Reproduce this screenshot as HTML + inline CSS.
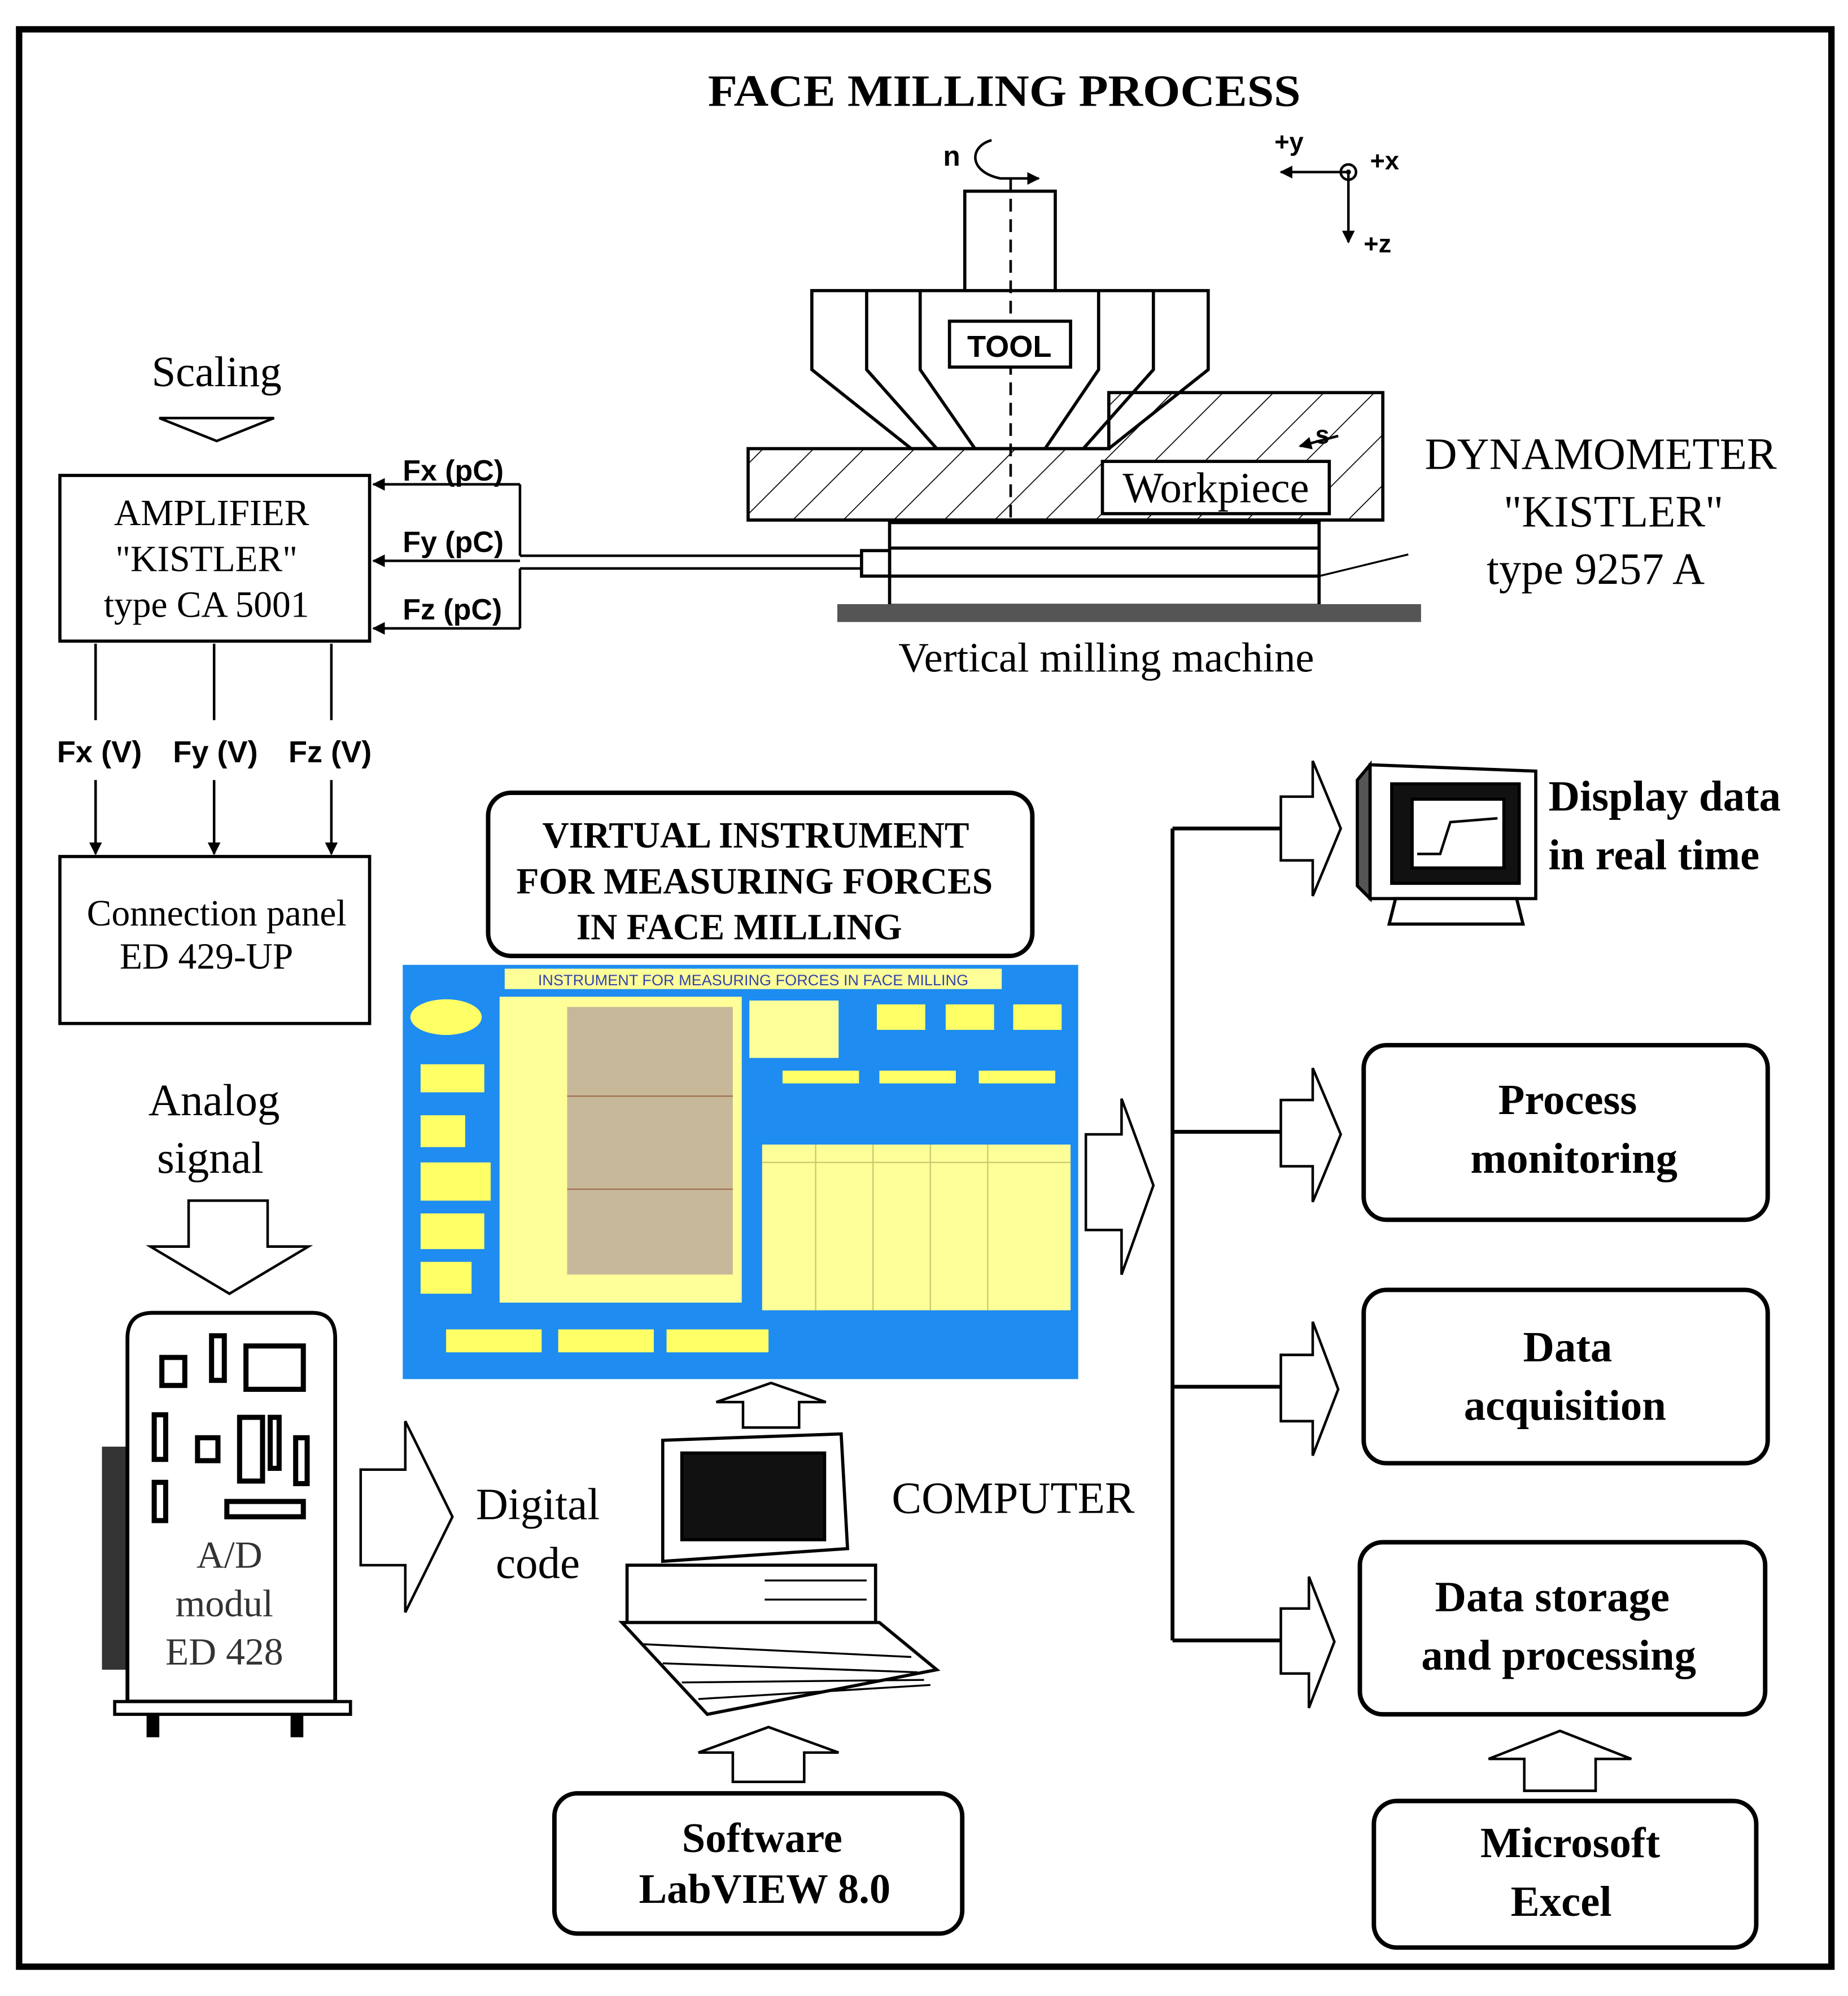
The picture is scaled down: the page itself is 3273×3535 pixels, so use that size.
<!DOCTYPE html>
<html><head><meta charset="utf-8"><style>
html,body{margin:0;padding:0;background:#fff}
svg{display:block}
.s{font-family:"Liberation Serif",serif}
.a{font-family:"Liberation Sans",sans-serif}
</style></head><body>
<svg width="3273" height="3535" viewBox="0 0 1450 1566" preserveAspectRatio="none" xmlns="http://www.w3.org/2000/svg">
<defs>
<pattern id="h" width="28" height="28" patternUnits="userSpaceOnUse" patternTransform="rotate(45)"><line x1="0" y1="0" x2="0" y2="28" stroke="#000" stroke-width="1.5"/></pattern>
<marker id="ar" markerWidth="10" markerHeight="10" refX="9" refY="5" orient="auto" markerUnits="userSpaceOnUse"><path d="M0,0 L10,5 L0,10z" fill="#000"/></marker>
</defs>
<rect x="0" y="0" width="1450" height="1566" fill="#fff"/>
<rect x="15" y="23" width="1422" height="1520" fill="none" stroke="#000" stroke-width="5"/>
<text x="788" y="83" text-anchor="middle" class="s" font-size="35" font-weight="bold" textLength="465" lengthAdjust="spacingAndGlyphs">FACE MILLING PROCESS</text>

<!-- axes -->
<g stroke="#000" stroke-width="2" fill="none">
<line x1="1058" y1="135" x2="1005" y2="135" marker-end="url(#ar)"/>
<line x1="1058" y1="135" x2="1058" y2="190" marker-end="url(#ar)"/>
<circle cx="1058" cy="135" r="6"/>
</g>
<circle cx="1058" cy="135" r="2" fill="#000"/>
<text x="1000" y="118" class="a" font-size="20" font-weight="bold">+y</text>
<text x="1075" y="133" class="a" font-size="20" font-weight="bold">+x</text>
<text x="1070" y="198" class="a" font-size="20" font-weight="bold">+z</text>
<text x="740" y="130" class="a" font-size="22" font-weight="bold">n</text>
<path d="M778,110 C760,115 760,135 785,140 L815,140" stroke="#000" stroke-width="2" fill="none" marker-end="url(#ar)"/>

<!-- tool -->
<g stroke="#000" stroke-width="2.5" fill="#fff">
<rect x="757" y="150" width="71" height="80"/>
<path d="M637,228 L948,228 L948,290 L870,352 L715,352 L637,290 Z"/>
</g>
<g stroke="#000" stroke-width="2.5" fill="none">
<path d="M680,228 L680,290 L735,352"/>
<path d="M722,228 L722,290 L765,352"/>
<path d="M862,228 L862,290 L820,352"/>
<path d="M905,228 L905,290 L850,352"/>
</g>
<line x1="793" y1="140" x2="793" y2="410" stroke="#000" stroke-width="2" stroke-dasharray="10,6"/>
<rect x="745" y="252" width="95" height="36" fill="#fff" stroke="#000" stroke-width="2.5"/>
<text x="792" y="280" text-anchor="middle" class="a" font-size="24" font-weight="bold">TOOL</text>

<!-- workpiece -->
<path d="M587,352 L870,352 L870,308 L1085,308 L1085,408 L587,408 Z" fill="url(#h)" stroke="#000" stroke-width="2.5"/>
<path d="M1050,342 L1020,350" stroke="#000" stroke-width="2" marker-end="url(#ar)"/>
<text x="1032" y="348" class="a" font-size="20" font-weight="bold">s</text>
<rect x="865" y="362" width="178" height="41" fill="#fff" stroke="#000" stroke-width="2.5"/>
<text x="954" y="394" text-anchor="middle" class="s" font-size="34">Workpiece</text>

<!-- dynamometer -->
<g stroke="#000" stroke-width="2.5" fill="#fff">
<rect x="698" y="410" width="337" height="65"/>
<line x1="698" y1="430" x2="1035" y2="430"/>
<line x1="698" y1="452" x2="1035" y2="452"/>
<rect x="676" y="432" width="22" height="20"/>
</g>
<line x1="1035" y1="452" x2="1105" y2="435" stroke="#000" stroke-width="1.5"/>
<rect x="657" y="474" width="458" height="14" fill="#555"/>
<text x="868" y="527" text-anchor="middle" class="s" font-size="33">Vertical milling machine</text>
<text x="1256" y="368" text-anchor="middle" class="s" font-size="35">DYNAMOMETER</text>
<text x="1266" y="413" text-anchor="middle" class="s" font-size="35">"KISTLER"</text>
<text x="1252" y="458" text-anchor="middle" class="s" font-size="35">type 9257 A</text>

<!-- signal lines -->
<g stroke="#000" stroke-width="2" fill="none">
<line x1="408" y1="380" x2="293" y2="380" marker-end="url(#ar)"/>
<line x1="408" y1="440" x2="293" y2="440" marker-end="url(#ar)"/>
<line x1="408" y1="493" x2="293" y2="493" marker-end="url(#ar)"/>
<line x1="408" y1="380" x2="408" y2="436"/>
<line x1="408" y1="446" x2="408" y2="493"/>
<line x1="408" y1="436" x2="676" y2="436"/>
<line x1="408" y1="446" x2="676" y2="446"/>
</g>
<text x="316" y="377" class="a" font-size="23" font-weight="bold">Fx (pC)</text>
<text x="316" y="433" class="a" font-size="23" font-weight="bold">Fy (pC)</text>
<text x="316" y="486" class="a" font-size="23" font-weight="bold">Fz (pC)</text>

<!-- amplifier -->
<text x="170" y="303" text-anchor="middle" class="s" font-size="34">Scaling</text>
<path d="M125,328 L215,328 L170,346 Z" fill="#fff" stroke="#000" stroke-width="2"/>
<rect x="47" y="373" width="243" height="130" fill="#fff" stroke="#000" stroke-width="2.5"/>
<text x="166" y="412" text-anchor="middle" class="s" font-size="29">AMPLIFIER</text>
<text x="162" y="448" text-anchor="middle" class="s" font-size="29">"KISTLER"</text>
<text x="162" y="484" text-anchor="middle" class="s" font-size="29">type CA 5001</text>
<g stroke="#000" stroke-width="2">
<line x1="75" y1="505" x2="75" y2="565"/><line x1="168" y1="505" x2="168" y2="565"/><line x1="260" y1="505" x2="260" y2="565"/>
<line x1="75" y1="612" x2="75" y2="670" marker-end="url(#ar)"/><line x1="168" y1="612" x2="168" y2="670" marker-end="url(#ar)"/><line x1="260" y1="612" x2="260" y2="670" marker-end="url(#ar)"/>
</g>
<text x="78" y="598" text-anchor="middle" class="a" font-size="24" font-weight="bold">Fx (V)</text>
<text x="169" y="598" text-anchor="middle" class="a" font-size="24" font-weight="bold">Fy (V)</text>
<text x="259" y="598" text-anchor="middle" class="a" font-size="24" font-weight="bold">Fz (V)</text>
<rect x="47" y="672" width="243" height="131" fill="#fff" stroke="#000" stroke-width="2.5"/>
<text x="170" y="726" text-anchor="middle" class="s" font-size="29">Connection panel</text>
<text x="162" y="760" text-anchor="middle" class="s" font-size="29">ED 429-UP</text>

<!-- analog -->
<text x="168" y="875" text-anchor="middle" class="s" font-size="35">Analog</text>
<text x="165" y="920" text-anchor="middle" class="s" font-size="35">signal</text>
<path d="M148,942 L210,942 L210,978 L242,978 L180,1015 L118,978 L148,978 Z" fill="#fff" stroke="#000" stroke-width="2"/>

<!-- A/D module -->
<rect x="80" y="1135" width="20" height="175" fill="#333"/>
<path d="M120,1030 L245,1030 Q263,1030 263,1050 L263,1335 L100,1335 L100,1050 Q100,1030 120,1030 Z" fill="#fff" stroke="#000" stroke-width="3"/>
<rect x="90" y="1335" width="185" height="10" fill="#fff" stroke="#000" stroke-width="2.5"/>
<rect x="115" y="1345" width="10" height="18" fill="#000"/><rect x="228" y="1345" width="10" height="18" fill="#000"/>
<g fill="#fff" stroke="#000" stroke-width="4">
<rect x="127" y="1065" width="18" height="22"/><rect x="166" y="1048" width="10" height="35"/><rect x="193" y="1056" width="45" height="34"/>
<rect x="121" y="1110" width="9" height="35"/><rect x="155" y="1128" width="16" height="18"/><rect x="188" y="1112" width="18" height="50"/><rect x="212" y="1112" width="7" height="40"/><rect x="232" y="1128" width="9" height="36"/>
<rect x="121" y="1163" width="9" height="30"/><rect x="178" y="1178" width="60" height="12"/>
</g>
<text x="180" y="1230" text-anchor="middle" class="s" font-size="30" fill="#333">A/D</text>
<text x="176" y="1268" text-anchor="middle" class="s" font-size="30" fill="#333">modul</text>
<text x="176" y="1306" text-anchor="middle" class="s" font-size="30" fill="#333">ED 428</text>

<path d="M283,1153 L318,1153 L318,1115 L355,1190 L318,1265 L318,1228 L283,1228 Z" fill="#fff" stroke="#000" stroke-width="2"/>
<text x="422" y="1192" text-anchor="middle" class="s" font-size="35">Digital</text>
<text x="422" y="1238" text-anchor="middle" class="s" font-size="35">code</text>

<!-- VI -->
<rect x="383" y="622" width="427" height="128" rx="18" fill="#fff" stroke="#000" stroke-width="3.5"/>
<text x="593" y="665" text-anchor="middle" class="s" font-size="29" font-weight="bold">VIRTUAL INSTRUMENT</text>
<text x="592" y="701" text-anchor="middle" class="s" font-size="29" font-weight="bold">FOR MEASURING FORCES</text>
<text x="580" y="737" text-anchor="middle" class="s" font-size="29" font-weight="bold">IN FACE MILLING</text>

<rect x="316" y="757" width="530" height="325" fill="#1e8cf0"/>
<rect x="396" y="760" width="390" height="16" fill="#ffff99"/>
<text x="591" y="773" text-anchor="middle" class="a" font-size="12" fill="#3344aa">INSTRUMENT FOR MEASURING FORCES IN FACE MILLING</text>
<ellipse cx="350" cy="798" rx="28" ry="14" fill="#ffff66"/>
<rect x="392" y="782" width="190" height="240" fill="#ffff99"/>
<rect x="445" y="790" width="130" height="210" fill="#c8b89a"/>
<g stroke="#a07050" stroke-width="1">
<line x1="445" y1="860" x2="575" y2="860"/><line x1="445" y1="933" x2="575" y2="933"/>
</g>
<rect x="588" y="785" width="70" height="45" fill="#ffff99"/>
<rect x="598" y="898" width="242" height="130" fill="#ffff99"/>
<g stroke="#c8c870" stroke-width="1">
<line x1="598" y1="912" x2="840" y2="912"/><line x1="640" y1="898" x2="640" y2="1028"/><line x1="685" y1="898" x2="685" y2="1028"/><line x1="730" y1="898" x2="730" y2="1028"/><line x1="775" y1="898" x2="775" y2="1028"/>
</g>
<g fill="#ffff66">
<rect x="330" y="835" width="50" height="22"/><rect x="330" y="875" width="35" height="25"/><rect x="330" y="912" width="55" height="30"/><rect x="330" y="952" width="50" height="28"/><rect x="330" y="990" width="40" height="25"/>
<rect x="688" y="788" width="38" height="20"/><rect x="742" y="788" width="38" height="20"/><rect x="795" y="788" width="38" height="20"/>
<rect x="614" y="840" width="60" height="10"/><rect x="690" y="840" width="60" height="10"/><rect x="768" y="840" width="60" height="10"/>
<rect x="350" y="1043" width="75" height="18"/><rect x="438" y="1043" width="75" height="18"/><rect x="523" y="1043" width="80" height="18"/>
</g>
<path d="M583,1120 L583,1100 L562,1100 L605,1085 L648,1100 L627,1100 L627,1120 Z" fill="#fff" stroke="#000" stroke-width="2"/>

<!-- computer -->
<g stroke="#000" stroke-width="2.5">
<path d="M520,1130 L660,1125 L665,1215 L520,1225 Z" fill="#fff"/>
<rect x="535" y="1140" width="112" height="68" fill="#111"/>
<rect x="492" y="1228" width="195" height="45" fill="#fff"/>
<path d="M488,1273 L690,1273 L735,1310 L555,1345 Z" fill="#fff"/>
</g>
<g stroke="#000" stroke-width="1.5">
<line x1="505" y1="1290" x2="715" y2="1300"/><line x1="520" y1="1305" x2="720" y2="1312"/><line x1="535" y1="1320" x2="725" y2="1318"/><line x1="548" y1="1333" x2="730" y2="1322"/>
<line x1="600" y1="1240" x2="680" y2="1240"/><line x1="600" y1="1255" x2="680" y2="1255"/>
</g>
<text x="795" y="1187" text-anchor="middle" class="s" font-size="35">COMPUTER</text>
<path d="M575,1398 L575,1375 L548,1375 L603,1355 L658,1375 L631,1375 L631,1398 Z" fill="#fff" stroke="#000" stroke-width="2"/>
<rect x="435" y="1407" width="320" height="110" rx="18" fill="#fff" stroke="#000" stroke-width="3.5"/>
<text x="598" y="1453" text-anchor="middle" class="s" font-size="33" font-weight="bold">Software</text>
<text x="600" y="1493" text-anchor="middle" class="s" font-size="33" font-weight="bold">LabVIEW 8.0</text>

<!-- right side -->
<path d="M852,890 L880,890 L880,862 L905,930 L880,1000 L880,965 L852,965 Z" fill="#fff" stroke="#000" stroke-width="2"/>
<g stroke="#000" stroke-width="3" fill="none">
<line x1="920" y1="650" x2="920" y2="1287"/>
<line x1="920" y1="650" x2="1005" y2="650"/><line x1="920" y1="888" x2="1005" y2="888"/><line x1="920" y1="1088" x2="1005" y2="1088"/><line x1="920" y1="1287" x2="1005" y2="1287"/>
</g>
<g fill="#fff" stroke="#000" stroke-width="2">
<path d="M1005,625 L1030,625 L1030,597 L1052,650 L1030,703 L1030,675 L1005,675 Z"/>
<path d="M1005,863 L1030,863 L1030,838 L1052,890 L1030,943 L1030,915 L1005,915 Z"/>
<path d="M1005,1063 L1030,1063 L1030,1037 L1050,1090 L1030,1142 L1030,1115 L1005,1115 Z"/>
<path d="M1005,1262 L1027,1262 L1027,1237 L1047,1288 L1027,1340 L1027,1313 L1005,1313 Z"/>
</g>
<!-- monitor -->
<g stroke="#000" stroke-width="2.5">
<path d="M1075,600 L1205,605 L1205,705 L1075,705 Z" fill="#fff"/>
<path d="M1065,612 L1075,600 L1075,705 L1065,695 Z" fill="#555"/>
<rect x="1092" y="615" width="100" height="78" fill="#111"/>
<rect x="1108" y="627" width="72" height="54" fill="#fff"/>
<path d="M1095,705 L1190,705 L1195,725 L1090,725 Z" fill="#fff"/>
</g>
<polyline points="1112,670 1130,670 1138,645 1175,642" stroke="#000" stroke-width="2" fill="none"/>
<text x="1215" y="636" class="s" font-size="34" font-weight="bold">Display data</text>
<text x="1215" y="682" class="s" font-size="34" font-weight="bold">in real time</text>

<g fill="#fff" stroke="#000" stroke-width="3.5">
<rect x="1070" y="820" width="317" height="137" rx="18"/>
<rect x="1070" y="1012" width="317" height="136" rx="18"/>
<rect x="1067" y="1210" width="318" height="135" rx="18"/>
<rect x="1078" y="1413" width="300" height="115" rx="18"/>
</g>
<g class="s" font-size="34" font-weight="bold" text-anchor="middle">
<text x="1230" y="874">Process</text><text x="1235" y="920">monitoring</text>
<text x="1230" y="1068">Data</text><text x="1228" y="1114">acquisition</text>
<text x="1218" y="1264">Data storage</text><text x="1223" y="1310">and processing</text>
<text x="1232" y="1457">Microsoft</text><text x="1225" y="1503">Excel</text>
</g>
<path d="M1196,1405 L1196,1380 L1168,1380 L1224,1358 L1280,1380 L1252,1380 L1252,1405 Z" fill="#fff" stroke="#000" stroke-width="2"/>
</svg>
</body></html>
